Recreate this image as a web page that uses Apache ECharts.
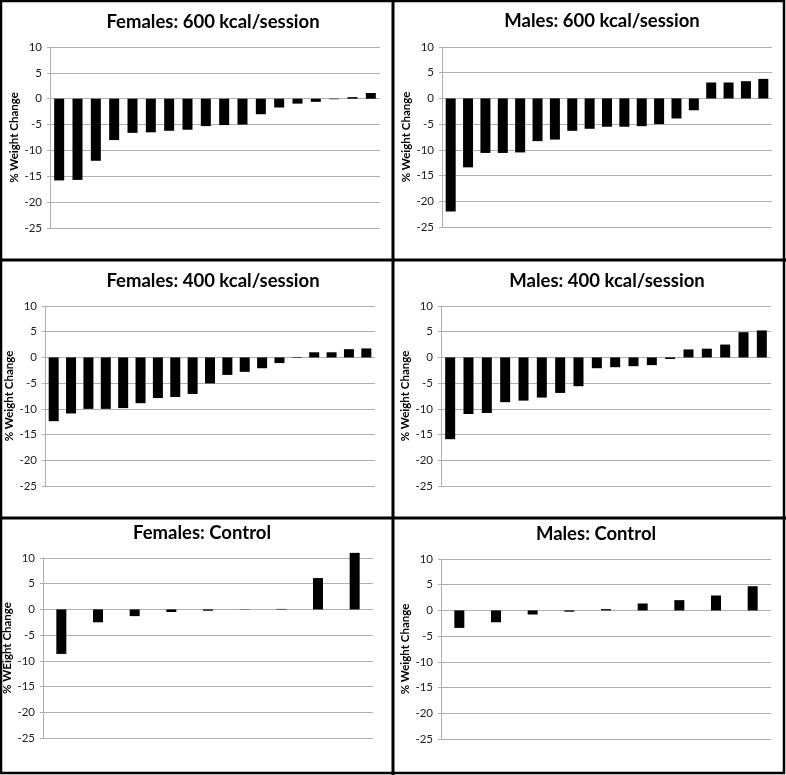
<!DOCTYPE html>
<html>
<head>
<meta charset="utf-8">
<script src="https://cdn.jsdelivr.net/npm/echarts@6/dist/echarts.min.js"></script>
<style>
html,body{margin:0;padding:0;background:#fff;}
#chart{width:786px;height:775px;}
</style>
</head>
<body>
<div id="chart"></div>
<script>
// ---- Data ----
const panelTitles = ['Females: 600 kcal/session', 'Males: 600 kcal/session',
  'Females: 400 kcal/session', 'Males: 400 kcal/session',
  'Females: Control', 'Males: Control'];
const axisNames = ['% Weight Change', '% Weight Change', '% Weight Change',
  '% Weight Change', '% WEight Change', '% Weight Change'];
const yTicks = [-25, -20, -15, -10, -5, 0, 5, 10];

const f600 = [-15.8, -15.7, -12.0, -8.0, -6.6, -6.5, -6.2, -6.0, -5.3, -5.1, -5.0, -3.0, -1.7, -0.95, -0.6, -0.1, 0.3, 1.1];
const m600 = [-22.0, -13.4, -10.6, -10.6, -10.5, -8.3, -8.0, -6.3, -5.9, -5.5, -5.5, -5.4, -5.0, -3.9, -2.3, 3.1, 3.1, 3.35, 3.8];
const f400 = [-12.4, -10.9, -10.0, -10.0, -9.85, -8.9, -7.9, -7.7, -7.1, -5.05, -3.4, -2.8, -2.1, -1.1, -0.1, 1.0, 1.0, 1.6, 1.75];
const m400 = [-15.9, -11.0, -10.8, -8.7, -8.4, -7.8, -6.9, -5.6, -2.1, -1.9, -1.7, -1.5, -0.3, 1.55, 1.7, 2.5, 4.9, 5.25];
const fControl = [-8.65, -2.5, -1.3, -0.5, -0.25, -0.05, 0.1, 6.1, 11.0];
const mControl = [-3.4, -2.3, -0.8, -0.25, 0.25, 1.35, 2.0, 2.9, 4.7];

const seriesData = [f600, m600, f400, m400, fControl, mControl];
// participant categories (unlabelled in the original)
const categories = seriesData.map(d => d.map((_, i) => 'P' + (i + 1)));

// ---- Layout ----
const grids = [
  {left: 50, top: 47, width: 330, height: 181},
  {left: 442, top: 47, width: 330, height: 180},
  {left: 45, top: 306, width: 330, height: 180},
  {left: 441, top: 306, width: 330, height: 180},
  {left: 43, top: 558, width: 330, height: 180},
  {left: 441, top: 559, width: 330, height: 180}
];
const titlePos = [[213, 13], [602, 12], [213, 272], [607, 272], [202, 524], [596, 525]];

const GRID_COLOR = '#b0b0b0';
const FONT = 'Lato, "Open Sans", sans-serif';

const option = {
  animation: false,
  backgroundColor: '#fff',
  title: panelTitles.map((t, i) => ({
    text: t,
    left: titlePos[i][0],
    top: titlePos[i][1],
    textAlign: 'center',
    padding: 0,
    textStyle: {fontFamily: FONT, fontWeight: 'bold', fontSize: 18.5, color: '#000'}
  })),
  grid: grids,
  xAxis: grids.map((g, i) => ({
    type: 'category',
    gridIndex: i,
    data: categories[i],
    axisLine: {show: false},
    axisTick: {show: false},
    axisLabel: {show: false},
    splitLine: {show: false}
  })),
  yAxis: grids.map((g, i) => ({
    type: 'value',
    gridIndex: i,
    min: -25,
    max: 10,
    interval: 5,
    name: axisNames[i],
    nameLocation: 'middle',
    nameRotate: 90,
    nameGap: 29,
    nameTextStyle: {fontFamily: FONT, fontWeight: 'bold', fontSize: 11.5, color: '#000'},
    axisLine: {show: true, lineStyle: {color: GRID_COLOR, width: 1}},
    axisTick: {show: true, inside: false, length: 3, lineStyle: {color: GRID_COLOR}},
    axisLabel: {fontFamily: FONT, fontSize: 11.5, color: '#222', margin: 8,
      formatter: v => yTicks.includes(v) ? String(v) : ''},
    splitLine: {show: true, lineStyle: {color: GRID_COLOR, width: 1}}
  })),
  series: seriesData.map((d, i) => ({
    type: 'bar',
    xAxisIndex: i,
    yAxisIndex: i,
    data: d,
    barWidth: 10,
    clip: false,
    itemStyle: {color: '#000'}
  })),
  graphic: [
    {type: 'rect', shape: {x: 1, y: 1, width: 783, height: 772}, style: {fill: null, stroke: '#000', lineWidth: 2.5}, silent: true},
    {type: 'line', shape: {x1: 393, y1: 0, x2: 393, y2: 775}, style: {stroke: '#000', lineWidth: 3}, silent: true},
    {type: 'line', shape: {x1: 0, y1: 260, x2: 786, y2: 260}, style: {stroke: '#000', lineWidth: 3}, silent: true},
    {type: 'line', shape: {x1: 0, y1: 518, x2: 786, y2: 518}, style: {stroke: '#000', lineWidth: 3}, silent: true}
  ]
};

const chart = echarts.init(document.getElementById('chart'), null, {renderer: 'canvas'});
chart.setOption(option);
</script>
</body>
</html>
